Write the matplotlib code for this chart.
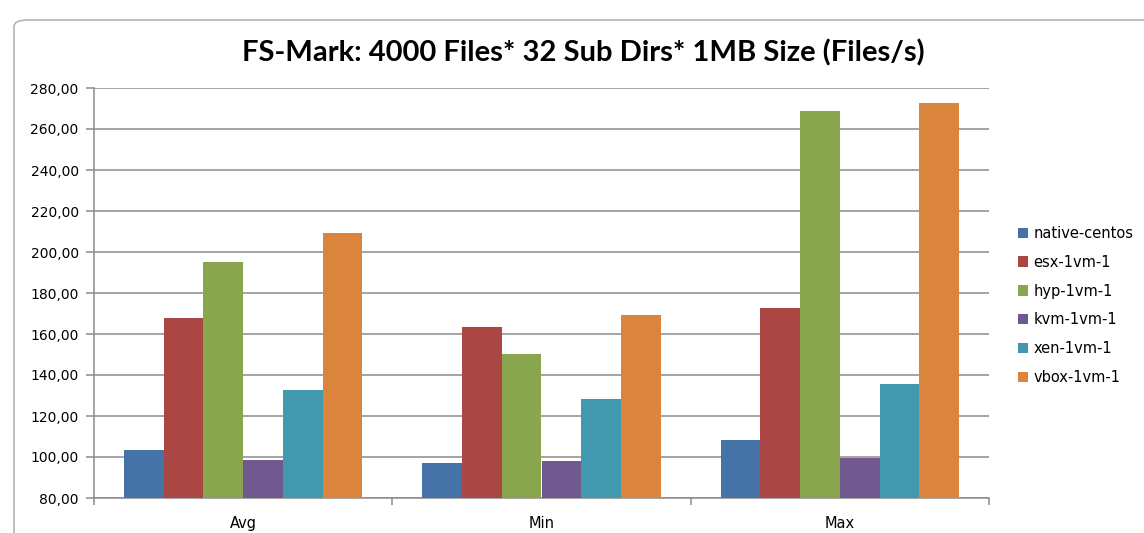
import numpy as np
import matplotlib.pyplot as plt
from matplotlib.patches import FancyBboxPatch

plt.rcParams['font.family'] = ['DejaVu Sans']

categories = ["Avg", "Min", "Max"]
series_names = ["native-centos", "esx-1vm-1", "hyp-1vm-1", "kvm-1vm-1", "xen-1vm-1", "vbox-1vm-1"]
native_centos = [103.3, 97.3, 108.5]
esx_1vm_1 = [167.6, 163.5, 172.5]
hyp_1vm_1 = [195.3, 150.2, 268.6]
kvm_1vm_1 = [98.4, 97.9, 99.6]
xen_1vm_1 = [132.6, 128.4, 135.5]
vbox_1vm_1 = [209.5, 169.4, 272.7]
series_values = [native_centos, esx_1vm_1, hyp_1vm_1, kvm_1vm_1, xen_1vm_1, vbox_1vm_1]
colors = ["#4572A7", "#AA4643", "#89A54E", "#71588F", "#4198AF", "#DB843D"]

fig = plt.figure(figsize=(11.44, 5.33), dpi=100)
ax = fig.add_axes([94 / 1144, 35 / 533, 895 / 1144, 410 / 533])

# chart area frame with rounded top-left corner
frame = FancyBboxPatch((14 / 1144, -0.1), 1.2, (533 - 20) / 533 + 0.1,
                       boxstyle="round,pad=0,rounding_size=0.012",
                       transform=fig.transFigure, fill=False,
                       edgecolor="#b4b4b4", linewidth=1.2)
fig.patches.append(frame)

x = np.arange(len(categories))
width = 1 / 7.5
for j, (name, vals) in enumerate(zip(series_names, series_values)):
    ax.bar(x + (j - 2.5) * width, vals, width, color=colors[j], label=name,
           zorder=3)

ax.set_xlim(-0.5, 2.5)
ax.set_ylim(80, 280)
ax.set_yticks(np.arange(80, 281, 20))
ax.set_yticklabels([f"{v:.2f}".replace(".", ",") for v in np.arange(80, 281, 20)])
ax.yaxis.grid(True, color="#8c8c8c", linewidth=1.1, zorder=0)

ax.set_xticks(x)
ax.set_xticklabels(categories)
ax.set_xticks([-0.5, 0.5, 1.5, 2.5], minor=True)
ax.tick_params(axis="x", which="major", length=0, pad=13, labelsize=10.5)
ax.tick_params(axis="x", which="minor", length=5, color="#8c8c8c", width=1.1)
ax.tick_params(axis="y", length=6, color="#8c8c8c", width=1.1, labelsize=10, pad=5)

for side in ("top", "right"):
    ax.spines[side].set_visible(False)
for side in ("left", "bottom"):
    ax.spines[side].set_color("#8c8c8c")
    ax.spines[side].set_linewidth(1.1)

fig.text(583 / 1144, 1 - 53 / 533, "FS-Mark: 4000 Files* 32 Sub Dirs* 1MB Size (Files/s)",
         ha="center", va="center", fontsize=21, fontweight="bold",
         family=["Lato", "DejaVu Sans"])

fig.legend(loc="upper left", bbox_to_anchor=(1012 / 1144, 1 - 220 / 533),
           frameon=False, fontsize=10.5, handlelength=0.7, handleheight=0.7,
           handletextpad=0.35, labelspacing=0.95, borderaxespad=0)

fig.savefig("out.png", dpi=100)
